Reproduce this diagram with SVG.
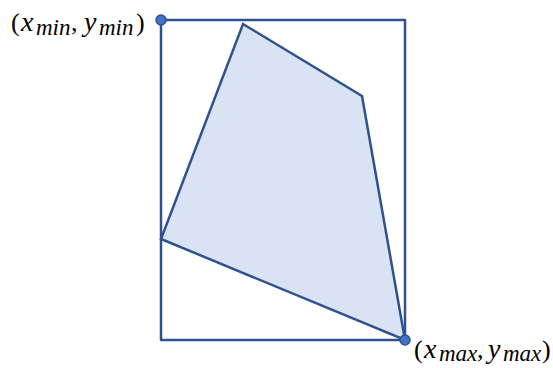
<svg xmlns="http://www.w3.org/2000/svg" width="553" height="368" viewBox="0 0 553 368">
<style>
.ln{fill:none;stroke:#2F528F;stroke-width:2.5;stroke-linejoin:round}
.poly{fill:#DAE3F3;stroke:#2F528F;stroke-width:2.5;stroke-linejoin:miter}
.dot{fill:#4472C4;stroke:#2F528F;stroke-width:1.5}
.lbl{font-family:"Liberation Serif","DejaVu Serif",serif;font-size:26px;font-style:italic;fill:#000}
.var{font-size:28px}
.sub{font-size:23px}
.up{font-style:normal}
</style>
<rect width="553" height="368" fill="#fff"/>
<g id="bbox"><rect class="ln" x="161" y="20" width="244" height="320"/></g>
<g id="polygon"><polygon class="poly" points="243,24 362,96 405,340 161,239"/></g>
<g id="min-point"><circle class="dot" cx="161" cy="20" r="5"/>
<text class="lbl" y="31"><tspan class="up" x="11">(</tspan><tspan class="var" x="21">x</tspan><tspan class="sub" x="36" y="35">min</tspan><tspan class="up" x="71" y="31">,</tspan><tspan class="var" x="84">y</tspan><tspan class="sub" x="99" y="35">min</tspan><tspan class="up" x="136" y="31">)</tspan></text></g>
<g id="max-point"><circle class="dot" cx="405" cy="340" r="5"/>
<text class="lbl" y="358"><tspan class="up" x="414">(</tspan><tspan class="var" x="424">x</tspan><tspan class="sub" x="439" y="361">max</tspan><tspan class="up" x="477" y="358">,</tspan><tspan class="var" x="488">y</tspan><tspan class="sub" x="503" y="361">max</tspan><tspan class="up" x="542" y="358">)</tspan></text></g>
</svg>
